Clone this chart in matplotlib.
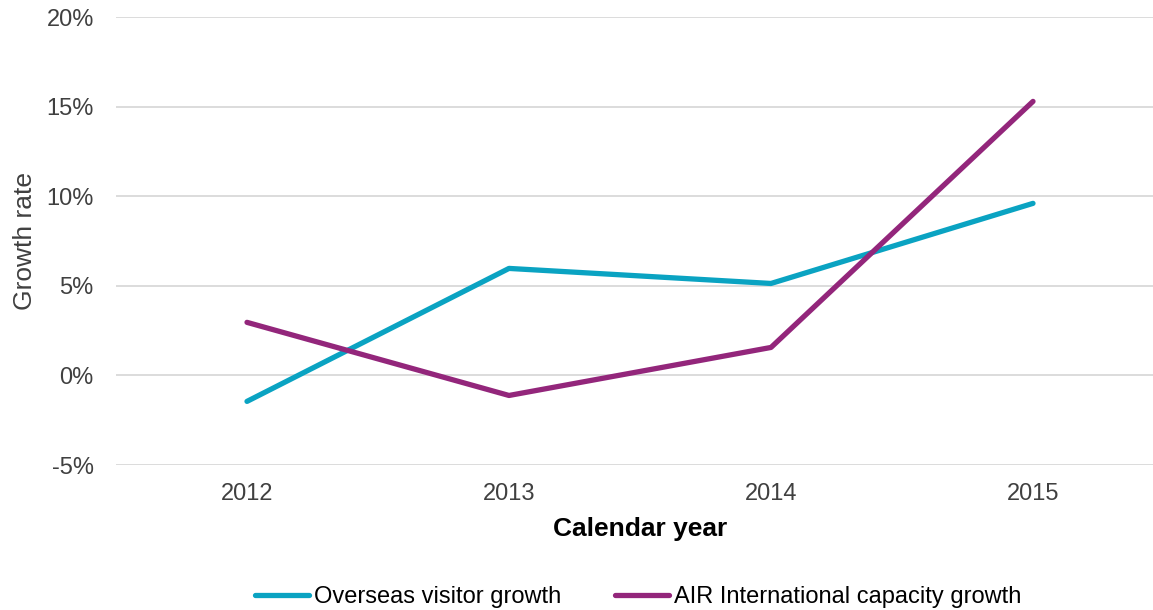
import matplotlib
matplotlib.use("Agg")
import matplotlib.pyplot as plt
from matplotlib.ticker import FuncFormatter

plt.rcParams['font.family'] = ['Liberation Sans', 'DejaVu Sans']

years = ["2012", "2013", "2014", "2015"]
overseas = [-1.45, 5.97, 5.13, 9.6]
air = [2.96, -1.12, 1.56, 15.29]
yticks = [-5, 0, 5, 10, 15, 20]

fig = plt.figure(figsize=(11.53, 6.10), dpi=100)
ax = fig.add_axes([116/1153, 1-465/610, (1164-116)/1153, (465-17)/610])

x = list(range(len(years)))
ax.plot(x, overseas, color="#0AA3C2", lw=3.8, solid_capstyle="round", label="Overseas visitor growth")
ax.plot(x, air, color="#93267B", lw=3.8, solid_capstyle="round", label="AIR International capacity growth")

ax.set_xlim(-0.5, 3.5)
ax.set_ylim(-5, 20)
ax.set_yticks(yticks)
ax.yaxis.set_major_formatter(FuncFormatter(lambda v, p: f"{v:.0f}%"))
ax.set_xticks(x)
ax.set_xticklabels(years)
ax.grid(axis="y", color="#D9D9D9", lw=1.3)
ax.set_axisbelow(True)
for s in ax.spines.values():
    s.set_visible(False)
ax.tick_params(axis="both", length=0, labelsize=17, labelcolor="#404040")
ax.tick_params(axis="y", pad=16)
ax.tick_params(axis="x", pad=13)

ax.set_xlabel("Calendar year", fontsize=19, fontweight="bold", color="black")
ax.set_ylabel("Growth rate", fontsize=19, color="#404040")
ax.xaxis.set_label_coords((640-116)/(1164-116), -(517-465)/448)
ax.yaxis.set_label_coords(-(116-37)/1048, 0.5)

fig.legend(loc="center", bbox_to_anchor=(638/1153, 1-597/610), ncol=2, frameon=False,
           fontsize=17, handlelength=2.3, handletextpad=0.21, columnspacing=2.25)

fig.savefig("out.png", dpi=100)
